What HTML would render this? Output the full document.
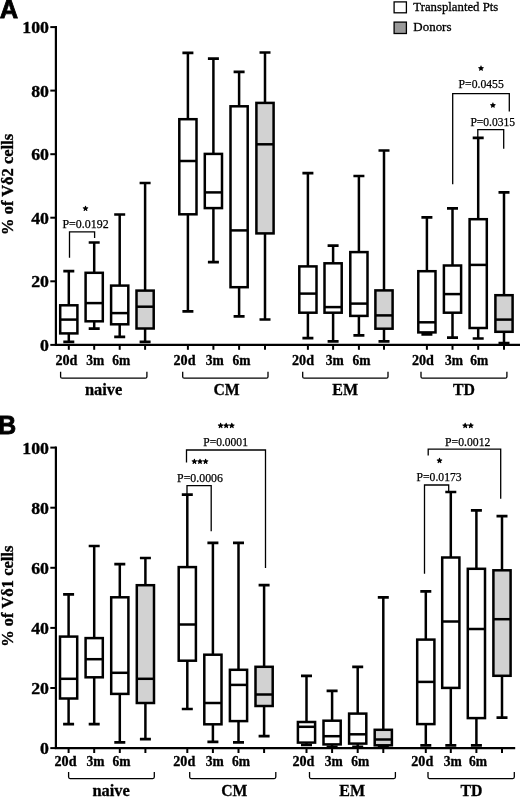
<!DOCTYPE html>
<html><head><meta charset="utf-8"><title>Figure</title>
<style>
html,body{margin:0;padding:0;background:#fff;}
svg{display:block;will-change:transform;}
text{font-family:"Liberation Serif",serif;fill:#000;}
.tk{font-size:16.8px;font-weight:bold;stroke:#000;stroke-width:0.35px;}
.xl{font-size:13.6px;font-weight:bold;stroke:#000;stroke-width:0.3px;}
.gl{font-size:16.6px;font-weight:bold;stroke:#000;stroke-width:0.3px;}
.yl{font-size:16.6px;font-weight:bold;stroke:#000;stroke-width:0.35px;}
.pl{font-family:"Liberation Sans",sans-serif;font-size:25.2px;font-weight:bold;stroke:#000;stroke-width:0.8px;}
.lg{font-size:12.8px;stroke:#000;stroke-width:0.3px;}
.pv{font-size:12.2px;stroke:#000;stroke-width:0.25px;}
</style></head><body>
<svg width="520" height="797" viewBox="0 0 520 797">
<rect width="520" height="797" fill="#fff"/>
<path d="M55.9 26.0V344.85H520" fill="none" stroke="#000" stroke-width="2.2"/>
<path d="M50.3 344.9H55.9" stroke="#000" stroke-width="2"/>
<text x="40.1" y="350.8" class="tk" textLength="8.9" lengthAdjust="spacingAndGlyphs">0</text>
<path d="M50.3 281.3H55.9" stroke="#000" stroke-width="2"/>
<text x="31.2" y="287.2" class="tk" textLength="17.8" lengthAdjust="spacingAndGlyphs">20</text>
<path d="M50.3 217.7H55.9" stroke="#000" stroke-width="2"/>
<text x="31.2" y="223.6" class="tk" textLength="17.8" lengthAdjust="spacingAndGlyphs">40</text>
<path d="M50.3 154.2H55.9" stroke="#000" stroke-width="2"/>
<text x="31.2" y="160.1" class="tk" textLength="17.8" lengthAdjust="spacingAndGlyphs">60</text>
<path d="M50.3 90.6H55.9" stroke="#000" stroke-width="2"/>
<text x="31.2" y="96.5" class="tk" textLength="17.8" lengthAdjust="spacingAndGlyphs">80</text>
<path d="M50.3 27.1H55.9" stroke="#000" stroke-width="2"/>
<text x="22.3" y="33.0" class="tk" textLength="26.7" lengthAdjust="spacingAndGlyphs">100</text>
<path d="M68.8 344.85V349.8" stroke="#000" stroke-width="2"/>
<path d="M68.8 271.2V341.8" stroke="#000" stroke-width="2.5" fill="none"/>
<path d="M63.3 271.2h11M63.3 341.8h11" stroke="#000" stroke-width="2.7" fill="none"/>
<rect x="60.2" y="305.3" width="17.2" height="28.1" fill="#fff" stroke="#000" stroke-width="2.5"/>
<path d="M60.2 319.6h17.2" stroke="#000" stroke-width="2.5"/>
<text x="55.4" y="364.8" class="xl" textLength="22.0" lengthAdjust="spacingAndGlyphs">20d</text>
<path d="M94.2 344.85V349.8" stroke="#000" stroke-width="2"/>
<path d="M94.2 242.5V328.7" stroke="#000" stroke-width="2.5" fill="none"/>
<path d="M88.7 242.5h11M88.7 328.7h11" stroke="#000" stroke-width="2.7" fill="none"/>
<rect x="85.6" y="272.8" width="17.2" height="48.5" fill="#fff" stroke="#000" stroke-width="2.5"/>
<path d="M85.6 303.1h17.2" stroke="#000" stroke-width="2.5"/>
<text x="86.2" y="364.8" class="xl" textLength="18.0" lengthAdjust="spacingAndGlyphs">3m</text>
<path d="M119.7 344.85V349.8" stroke="#000" stroke-width="2"/>
<path d="M119.7 214.5V336.8" stroke="#000" stroke-width="2.5" fill="none"/>
<path d="M114.2 214.5h11M114.2 336.8h11" stroke="#000" stroke-width="2.7" fill="none"/>
<rect x="111.1" y="285.6" width="17.2" height="38.7" fill="#fff" stroke="#000" stroke-width="2.5"/>
<path d="M111.1 313.1h17.2" stroke="#000" stroke-width="2.5"/>
<text x="112.2" y="364.8" class="xl" textLength="18.0" lengthAdjust="spacingAndGlyphs">6m</text>
<path d="M145.1 344.85V349.8" stroke="#000" stroke-width="2"/>
<path d="M145.1 183.0V341.8" stroke="#000" stroke-width="2.5" fill="none"/>
<path d="M139.6 183.0h11M139.6 341.8h11" stroke="#000" stroke-width="2.7" fill="none"/>
<rect x="136.5" y="290.6" width="17.2" height="37.9" fill="#d2d2d2" stroke="#000" stroke-width="2.5"/>
<path d="M136.5 306.7h17.2" stroke="#000" stroke-width="2.5"/>
<path d="M60.6 371.7V376.7Q60.6 378.2 62.1 378.2H145.4Q146.9 378.2 146.9 376.7V371.7" fill="none" stroke="#000" stroke-width="1.3"/>
<text x="84.9" y="395.0" class="gl" textLength="37.4" lengthAdjust="spacingAndGlyphs">naive</text>
<path d="M187.9 344.85V349.8" stroke="#000" stroke-width="2"/>
<path d="M187.9 52.9V311.3" stroke="#000" stroke-width="2.5" fill="none"/>
<path d="M182.4 52.9h11M182.4 311.3h11" stroke="#000" stroke-width="2.7" fill="none"/>
<rect x="179.3" y="119.2" width="17.2" height="95.1" fill="#fff" stroke="#000" stroke-width="2.5"/>
<path d="M179.3 161.0h17.2" stroke="#000" stroke-width="2.5"/>
<text x="173.5" y="364.8" class="xl" textLength="22.0" lengthAdjust="spacingAndGlyphs">20d</text>
<path d="M213.4 344.85V349.8" stroke="#000" stroke-width="2"/>
<path d="M213.4 58.6V262.1" stroke="#000" stroke-width="2.5" fill="none"/>
<path d="M207.9 58.6h11M207.9 262.1h11" stroke="#000" stroke-width="2.7" fill="none"/>
<rect x="204.8" y="153.9" width="17.2" height="54.2" fill="#fff" stroke="#000" stroke-width="2.5"/>
<path d="M204.8 192.4h17.2" stroke="#000" stroke-width="2.5"/>
<text x="205.7" y="364.8" class="xl" textLength="18.0" lengthAdjust="spacingAndGlyphs">3m</text>
<path d="M239.1 344.85V349.8" stroke="#000" stroke-width="2"/>
<path d="M239.1 71.9V316.3" stroke="#000" stroke-width="2.5" fill="none"/>
<path d="M233.6 71.9h11M233.6 316.3h11" stroke="#000" stroke-width="2.7" fill="none"/>
<rect x="230.5" y="106.3" width="17.2" height="180.9" fill="#fff" stroke="#000" stroke-width="2.5"/>
<path d="M230.5 230.4h17.2" stroke="#000" stroke-width="2.5"/>
<text x="232.6" y="364.8" class="xl" textLength="18.0" lengthAdjust="spacingAndGlyphs">6m</text>
<path d="M265.0 344.85V349.8" stroke="#000" stroke-width="2"/>
<path d="M265.0 52.5V319.5" stroke="#000" stroke-width="2.5" fill="none"/>
<path d="M259.5 52.5h11M259.5 319.5h11" stroke="#000" stroke-width="2.7" fill="none"/>
<rect x="256.4" y="102.9" width="17.2" height="130.5" fill="#d2d2d2" stroke="#000" stroke-width="2.5"/>
<path d="M256.4 144.3h17.2" stroke="#000" stroke-width="2.5"/>
<path d="M182.7 371.7V376.7Q182.7 378.2 184.2 378.2H266.5Q268.0 378.2 268.0 376.7V371.7" fill="none" stroke="#000" stroke-width="1.3"/>
<text x="213.5" y="395.0" class="gl" textLength="26.2" lengthAdjust="spacingAndGlyphs">CM</text>
<path d="M307.9 344.85V349.8" stroke="#000" stroke-width="2"/>
<path d="M307.9 173.1V338.2" stroke="#000" stroke-width="2.5" fill="none"/>
<path d="M302.4 173.1h11M302.4 338.2h11" stroke="#000" stroke-width="2.7" fill="none"/>
<rect x="299.3" y="266.4" width="17.2" height="46.3" fill="#fff" stroke="#000" stroke-width="2.5"/>
<path d="M299.3 293.6h17.2" stroke="#000" stroke-width="2.5"/>
<text x="292.0" y="364.8" class="xl" textLength="22.0" lengthAdjust="spacingAndGlyphs">20d</text>
<path d="M333.1 344.85V349.8" stroke="#000" stroke-width="2"/>
<path d="M333.1 245.7V341.4" stroke="#000" stroke-width="2.5" fill="none"/>
<path d="M327.6 245.7h11M327.6 341.4h11" stroke="#000" stroke-width="2.7" fill="none"/>
<rect x="324.5" y="263.3" width="17.2" height="49.4" fill="#fff" stroke="#000" stroke-width="2.5"/>
<path d="M324.5 307.1h17.2" stroke="#000" stroke-width="2.5"/>
<text x="325.7" y="364.8" class="xl" textLength="18.0" lengthAdjust="spacingAndGlyphs">3m</text>
<path d="M358.9 344.85V349.8" stroke="#000" stroke-width="2"/>
<path d="M358.9 176.0V335.3" stroke="#000" stroke-width="2.5" fill="none"/>
<path d="M353.4 176.0h11M353.4 335.3h11" stroke="#000" stroke-width="2.7" fill="none"/>
<rect x="350.3" y="252.1" width="17.2" height="63.8" fill="#fff" stroke="#000" stroke-width="2.5"/>
<path d="M350.3 303.6h17.2" stroke="#000" stroke-width="2.5"/>
<text x="352.6" y="364.8" class="xl" textLength="18.0" lengthAdjust="spacingAndGlyphs">6m</text>
<path d="M384.0 344.85V349.8" stroke="#000" stroke-width="2"/>
<path d="M384.0 150.5V341.4" stroke="#000" stroke-width="2.5" fill="none"/>
<path d="M378.5 150.5h11M378.5 341.4h11" stroke="#000" stroke-width="2.7" fill="none"/>
<rect x="375.4" y="290.4" width="17.2" height="38.3" fill="#d2d2d2" stroke="#000" stroke-width="2.5"/>
<path d="M375.4 315.4h17.2" stroke="#000" stroke-width="2.5"/>
<path d="M302.7 371.7V376.7Q302.7 378.2 304.2 378.2H386.5Q388.0 378.2 388.0 376.7V371.7" fill="none" stroke="#000" stroke-width="1.3"/>
<text x="332.3" y="395.0" class="gl" textLength="25.8" lengthAdjust="spacingAndGlyphs">EM</text>
<path d="M426.9 344.85V349.8" stroke="#000" stroke-width="2"/>
<path d="M426.9 217.3V334.4" stroke="#000" stroke-width="2.5" fill="none"/>
<path d="M421.4 217.3h11M421.4 334.4h11" stroke="#000" stroke-width="2.7" fill="none"/>
<rect x="418.3" y="271.2" width="17.2" height="61.2" fill="#fff" stroke="#000" stroke-width="2.5"/>
<path d="M418.3 322.3h17.2" stroke="#000" stroke-width="2.5"/>
<text x="411.9" y="364.8" class="xl" textLength="22.0" lengthAdjust="spacingAndGlyphs">20d</text>
<path d="M452.5 344.85V349.8" stroke="#000" stroke-width="2"/>
<path d="M452.5 208.3V337.7" stroke="#000" stroke-width="2.5" fill="none"/>
<path d="M447.0 208.3h11M447.0 337.7h11" stroke="#000" stroke-width="2.7" fill="none"/>
<rect x="443.9" y="265.5" width="17.2" height="47.2" fill="#fff" stroke="#000" stroke-width="2.5"/>
<path d="M443.9 294.1h17.2" stroke="#000" stroke-width="2.5"/>
<text x="444.9" y="364.8" class="xl" textLength="18.0" lengthAdjust="spacingAndGlyphs">3m</text>
<path d="M478.2 344.85V349.8" stroke="#000" stroke-width="2"/>
<path d="M478.2 137.9V338.5" stroke="#000" stroke-width="2.5" fill="none"/>
<path d="M472.7 137.9h11M472.7 338.5h11" stroke="#000" stroke-width="2.7" fill="none"/>
<rect x="469.6" y="219.2" width="17.2" height="108.8" fill="#fff" stroke="#000" stroke-width="2.5"/>
<path d="M469.6 264.9h17.2" stroke="#000" stroke-width="2.5"/>
<text x="470.3" y="364.8" class="xl" textLength="18.0" lengthAdjust="spacingAndGlyphs">6m</text>
<path d="M504.0 344.85V349.8" stroke="#000" stroke-width="2"/>
<path d="M504.0 192.4V343.0" stroke="#000" stroke-width="2.5" fill="none"/>
<path d="M498.5 192.4h11M498.5 343.0h11" stroke="#000" stroke-width="2.7" fill="none"/>
<rect x="495.4" y="295.2" width="17.2" height="36.6" fill="#d2d2d2" stroke="#000" stroke-width="2.5"/>
<path d="M495.4 319.6h17.2" stroke="#000" stroke-width="2.5"/>
<path d="M421.0 371.7V376.7Q421.0 378.2 422.5 378.2H505.4Q506.9 378.2 506.9 376.7V371.7" fill="none" stroke="#000" stroke-width="1.3"/>
<text x="453.0" y="395.0" class="gl" textLength="22.0" lengthAdjust="spacingAndGlyphs">TD</text>
<text x="-0.2" y="18.3" class="pl" textLength="18.4" lengthAdjust="spacingAndGlyphs">A</text>
<text transform="translate(13.0 184.4) rotate(-90)" text-anchor="middle" class="yl" textLength="101" lengthAdjust="spacingAndGlyphs">% of  Vδ2 cells</text>
<path d="M55.9 446.5V748.1H515.2" fill="none" stroke="#000" stroke-width="2.2"/>
<path d="M50.3 748.1H55.9" stroke="#000" stroke-width="2"/>
<text x="40.1" y="754.0" class="tk" textLength="8.9" lengthAdjust="spacingAndGlyphs">0</text>
<path d="M50.3 688.0H55.9" stroke="#000" stroke-width="2"/>
<text x="31.2" y="693.9" class="tk" textLength="17.8" lengthAdjust="spacingAndGlyphs">20</text>
<path d="M50.3 627.9H55.9" stroke="#000" stroke-width="2"/>
<text x="31.2" y="633.8" class="tk" textLength="17.8" lengthAdjust="spacingAndGlyphs">40</text>
<path d="M50.3 567.8H55.9" stroke="#000" stroke-width="2"/>
<text x="31.2" y="573.7" class="tk" textLength="17.8" lengthAdjust="spacingAndGlyphs">60</text>
<path d="M50.3 507.7H55.9" stroke="#000" stroke-width="2"/>
<text x="31.2" y="513.6" class="tk" textLength="17.8" lengthAdjust="spacingAndGlyphs">80</text>
<path d="M50.3 447.6H55.9" stroke="#000" stroke-width="2"/>
<text x="22.3" y="453.5" class="tk" textLength="26.7" lengthAdjust="spacingAndGlyphs">100</text>
<path d="M68.6 748.1V753.0" stroke="#000" stroke-width="2"/>
<path d="M68.6 594.3V724.1" stroke="#000" stroke-width="2.5" fill="none"/>
<path d="M63.1 594.3h11M63.1 724.1h11" stroke="#000" stroke-width="2.7" fill="none"/>
<rect x="60.0" y="636.6" width="17.2" height="61.9" fill="#fff" stroke="#000" stroke-width="2.5"/>
<path d="M60.0 678.8h17.2" stroke="#000" stroke-width="2.5"/>
<text x="54.5" y="766.0" class="xl" textLength="22.0" lengthAdjust="spacingAndGlyphs">20d</text>
<path d="M94.2 748.1V753.0" stroke="#000" stroke-width="2"/>
<path d="M94.2 546.0V724.1" stroke="#000" stroke-width="2.5" fill="none"/>
<path d="M88.7 546.0h11M88.7 724.1h11" stroke="#000" stroke-width="2.7" fill="none"/>
<rect x="85.6" y="638.1" width="17.2" height="39.2" fill="#fff" stroke="#000" stroke-width="2.5"/>
<path d="M85.6 659.2h17.2" stroke="#000" stroke-width="2.5"/>
<text x="86.5" y="766.0" class="xl" textLength="18.0" lengthAdjust="spacingAndGlyphs">3m</text>
<path d="M119.8 748.1V753.0" stroke="#000" stroke-width="2"/>
<path d="M119.8 564.1V742.3" stroke="#000" stroke-width="2.5" fill="none"/>
<path d="M114.3 564.1h11M114.3 742.3h11" stroke="#000" stroke-width="2.7" fill="none"/>
<rect x="111.2" y="597.3" width="17.2" height="96.6" fill="#fff" stroke="#000" stroke-width="2.5"/>
<path d="M111.2 672.8h17.2" stroke="#000" stroke-width="2.5"/>
<text x="112.6" y="766.0" class="xl" textLength="18.0" lengthAdjust="spacingAndGlyphs">6m</text>
<path d="M145.4 748.1V753.0" stroke="#000" stroke-width="2"/>
<path d="M145.4 558.0V739.2" stroke="#000" stroke-width="2.5" fill="none"/>
<path d="M139.9 558.0h11M139.9 739.2h11" stroke="#000" stroke-width="2.7" fill="none"/>
<rect x="136.8" y="585.2" width="17.2" height="117.8" fill="#d2d2d2" stroke="#000" stroke-width="2.5"/>
<path d="M136.8 678.8h17.2" stroke="#000" stroke-width="2.5"/>
<path d="M68.6 771.9V777.1Q68.6 778.6 70.1 778.6H152.8Q154.3 778.6 154.3 777.1V771.9" fill="none" stroke="#000" stroke-width="1.3"/>
<text x="92.4" y="795.8" class="gl" textLength="37.4" lengthAdjust="spacingAndGlyphs">naive</text>
<path d="M187.3 748.1V753.0" stroke="#000" stroke-width="2"/>
<path d="M187.3 494.6V709.0" stroke="#000" stroke-width="2.5" fill="none"/>
<path d="M181.8 494.6h11M181.8 709.0h11" stroke="#000" stroke-width="2.7" fill="none"/>
<rect x="178.7" y="567.1" width="17.2" height="93.6" fill="#fff" stroke="#000" stroke-width="2.5"/>
<path d="M178.7 624.5h17.2" stroke="#000" stroke-width="2.5"/>
<text x="173.3" y="766.0" class="xl" textLength="22.0" lengthAdjust="spacingAndGlyphs">20d</text>
<path d="M212.9 748.1V753.0" stroke="#000" stroke-width="2"/>
<path d="M212.9 542.9V741.9" stroke="#000" stroke-width="2.5" fill="none"/>
<path d="M207.4 542.9h11M207.4 741.9h11" stroke="#000" stroke-width="2.7" fill="none"/>
<rect x="204.3" y="654.7" width="17.2" height="69.6" fill="#fff" stroke="#000" stroke-width="2.5"/>
<path d="M204.3 703.0h17.2" stroke="#000" stroke-width="2.5"/>
<text x="205.7" y="766.0" class="xl" textLength="18.0" lengthAdjust="spacingAndGlyphs">3m</text>
<path d="M238.5 748.1V753.0" stroke="#000" stroke-width="2"/>
<path d="M238.5 542.9V742.4" stroke="#000" stroke-width="2.5" fill="none"/>
<path d="M233.0 542.9h11M233.0 742.4h11" stroke="#000" stroke-width="2.7" fill="none"/>
<rect x="229.9" y="669.8" width="17.2" height="51.3" fill="#fff" stroke="#000" stroke-width="2.5"/>
<path d="M229.9 684.9h17.2" stroke="#000" stroke-width="2.5"/>
<text x="231.9" y="766.0" class="xl" textLength="18.0" lengthAdjust="spacingAndGlyphs">6m</text>
<path d="M264.1 748.1V753.0" stroke="#000" stroke-width="2"/>
<path d="M264.1 585.2V736.2" stroke="#000" stroke-width="2.5" fill="none"/>
<path d="M258.6 585.2h11M258.6 736.2h11" stroke="#000" stroke-width="2.7" fill="none"/>
<rect x="255.5" y="666.8" width="17.2" height="39.2" fill="#d2d2d2" stroke="#000" stroke-width="2.5"/>
<path d="M255.5 694.5h17.2" stroke="#000" stroke-width="2.5"/>
<path d="M189.7 771.9V777.1Q189.7 778.6 191.2 778.6H274.3Q275.8 778.6 275.8 777.1V771.9" fill="none" stroke="#000" stroke-width="1.3"/>
<text x="221.2" y="795.8" class="gl" textLength="26.2" lengthAdjust="spacingAndGlyphs">CM</text>
<path d="M306.5 748.1V753.0" stroke="#000" stroke-width="2"/>
<path d="M306.5 675.8V745.0" stroke="#000" stroke-width="2.5" fill="none"/>
<path d="M301.0 675.8h11M301.0 745.0h11" stroke="#000" stroke-width="2.7" fill="none"/>
<rect x="297.9" y="722.0" width="17.2" height="20.6" fill="#fff" stroke="#000" stroke-width="2.5"/>
<path d="M297.9 726.8h17.2" stroke="#000" stroke-width="2.5"/>
<text x="292.4" y="766.0" class="xl" textLength="22.0" lengthAdjust="spacingAndGlyphs">20d</text>
<path d="M332.1 748.1V753.0" stroke="#000" stroke-width="2"/>
<path d="M332.1 690.9V746.8" stroke="#000" stroke-width="2.5" fill="none"/>
<path d="M326.6 690.9h11M326.6 746.8h11" stroke="#000" stroke-width="2.7" fill="none"/>
<rect x="323.5" y="720.7" width="17.2" height="23.7" fill="#fff" stroke="#000" stroke-width="2.5"/>
<path d="M323.5 736.2h17.2" stroke="#000" stroke-width="2.5"/>
<text x="324.7" y="766.0" class="xl" textLength="18.0" lengthAdjust="spacingAndGlyphs">3m</text>
<path d="M357.7 748.1V753.0" stroke="#000" stroke-width="2"/>
<path d="M357.7 666.8V746.8" stroke="#000" stroke-width="2.5" fill="none"/>
<path d="M352.2 666.8h11M352.2 746.8h11" stroke="#000" stroke-width="2.7" fill="none"/>
<rect x="349.1" y="713.6" width="17.2" height="30.0" fill="#fff" stroke="#000" stroke-width="2.5"/>
<path d="M349.1 734.3h17.2" stroke="#000" stroke-width="2.5"/>
<text x="351.3" y="766.0" class="xl" textLength="18.0" lengthAdjust="spacingAndGlyphs">6m</text>
<path d="M383.3 748.1V753.0" stroke="#000" stroke-width="2"/>
<path d="M383.3 597.3V746.8" stroke="#000" stroke-width="2.5" fill="none"/>
<path d="M377.8 597.3h11M377.8 746.8h11" stroke="#000" stroke-width="2.7" fill="none"/>
<rect x="374.7" y="729.8" width="17.2" height="15.5" fill="#d2d2d2" stroke="#000" stroke-width="2.5"/>
<path d="M374.7 739.5h17.2" stroke="#000" stroke-width="2.5"/>
<path d="M309.5 771.9V777.1Q309.5 778.6 311.0 778.6H393.9Q395.4 778.6 395.4 777.1V771.9" fill="none" stroke="#000" stroke-width="1.3"/>
<text x="339.3" y="795.8" class="gl" textLength="25.8" lengthAdjust="spacingAndGlyphs">EM</text>
<path d="M425.8 748.1V753.0" stroke="#000" stroke-width="2"/>
<path d="M425.8 591.3V745.3" stroke="#000" stroke-width="2.5" fill="none"/>
<path d="M420.3 591.3h11M420.3 745.3h11" stroke="#000" stroke-width="2.7" fill="none"/>
<rect x="417.2" y="639.6" width="17.2" height="84.5" fill="#fff" stroke="#000" stroke-width="2.5"/>
<path d="M417.2 681.9h17.2" stroke="#000" stroke-width="2.5"/>
<text x="411.3" y="766.0" class="xl" textLength="22.0" lengthAdjust="spacingAndGlyphs">20d</text>
<path d="M450.8 748.1V753.0" stroke="#000" stroke-width="2"/>
<path d="M450.8 492.0V745.3" stroke="#000" stroke-width="2.5" fill="none"/>
<path d="M445.3 492.0h11M445.3 745.3h11" stroke="#000" stroke-width="2.7" fill="none"/>
<rect x="442.2" y="557.5" width="17.2" height="130.4" fill="#fff" stroke="#000" stroke-width="2.5"/>
<path d="M442.2 621.5h17.2" stroke="#000" stroke-width="2.5"/>
<text x="443.8" y="766.0" class="xl" textLength="18.0" lengthAdjust="spacingAndGlyphs">3m</text>
<path d="M476.4 748.1V753.0" stroke="#000" stroke-width="2"/>
<path d="M476.4 510.3V745.3" stroke="#000" stroke-width="2.5" fill="none"/>
<path d="M470.9 510.3h11M470.9 745.3h11" stroke="#000" stroke-width="2.7" fill="none"/>
<rect x="467.8" y="568.8" width="17.2" height="149.3" fill="#fff" stroke="#000" stroke-width="2.5"/>
<path d="M467.8 629.0h17.2" stroke="#000" stroke-width="2.5"/>
<text x="468.9" y="766.0" class="xl" textLength="18.0" lengthAdjust="spacingAndGlyphs">6m</text>
<path d="M502.0 748.1V753.0" stroke="#000" stroke-width="2"/>
<path d="M502.0 516.2V717.7" stroke="#000" stroke-width="2.5" fill="none"/>
<path d="M496.5 516.2h11M496.5 717.7h11" stroke="#000" stroke-width="2.7" fill="none"/>
<rect x="493.4" y="570.3" width="17.2" height="105.5" fill="#d2d2d2" stroke="#000" stroke-width="2.5"/>
<path d="M493.4 619.2h17.2" stroke="#000" stroke-width="2.5"/>
<path d="M428.0 771.9V777.1Q428.0 778.6 429.5 778.6H512.8Q514.3 778.6 514.3 777.1V771.9" fill="none" stroke="#000" stroke-width="1.3"/>
<text x="460.4" y="795.8" class="gl" textLength="22.0" lengthAdjust="spacingAndGlyphs">TD</text>
<text x="-1.9" y="433.6" class="pl">B</text>
<text transform="translate(13.0 596.2) rotate(-90)" text-anchor="middle" class="yl" textLength="101" lengthAdjust="spacingAndGlyphs">% of  Vδ1 cells</text>
<path d="M69.5 257.7V231.8H94.6V238" fill="none" stroke="#000" stroke-width="1.3"/>
<text x="62.5" y="227.9" class="pv" textLength="46.1" lengthAdjust="spacingAndGlyphs">P=0.0192</text>
<path d="M85.50 208.50L85.50 206.30M85.50 208.50L87.59 207.82M85.50 208.50L86.79 210.28M85.50 208.50L84.21 210.28M85.50 208.50L83.41 207.82" stroke="#000" stroke-width="1.3" stroke-linecap="round" fill="none"/><circle cx="85.50" cy="208.50" r="1.6" fill="#000"/>
<path d="M452.7 184.3V93.6H509.3V111.6" fill="none" stroke="#000" stroke-width="1.3"/>
<text x="458.6" y="87.7" class="pv" textLength="45.2" lengthAdjust="spacingAndGlyphs">P=0.0455</text>
<path d="M481.00 68.40L481.00 66.20M481.00 68.40L483.09 67.72M481.00 68.40L482.29 70.18M481.00 68.40L479.71 70.18M481.00 68.40L478.91 67.72" stroke="#000" stroke-width="1.3" stroke-linecap="round" fill="none"/><circle cx="481.00" cy="68.40" r="1.6" fill="#000"/>
<path d="M477.8 137V129.6H503.7V148.7" fill="none" stroke="#000" stroke-width="1.3"/>
<text x="470.4" y="125.9" class="pv" textLength="44.7" lengthAdjust="spacingAndGlyphs">P=0.0315</text>
<path d="M492.90 105.30L492.90 103.10M492.90 105.30L494.99 104.62M492.90 105.30L494.19 107.08M492.90 105.30L491.61 107.08M492.90 105.30L490.81 104.62" stroke="#000" stroke-width="1.3" stroke-linecap="round" fill="none"/><circle cx="492.90" cy="105.30" r="1.6" fill="#000"/>
<path d="M186.5 462.5V450H265.5V568" fill="none" stroke="#000" stroke-width="1.3"/>
<text x="203.3" y="445.7" class="pv" textLength="44.6" lengthAdjust="spacingAndGlyphs">P=0.0001</text>
<path d="M220.60 425.70L220.60 423.50M220.60 425.70L222.69 425.02M220.60 425.70L221.89 427.48M220.60 425.70L219.31 427.48M220.60 425.70L218.51 425.02" stroke="#000" stroke-width="1.3" stroke-linecap="round" fill="none"/><circle cx="220.60" cy="425.70" r="1.6" fill="#000"/>
<path d="M226.20 425.70L226.20 423.50M226.20 425.70L228.29 425.02M226.20 425.70L227.49 427.48M226.20 425.70L224.91 427.48M226.20 425.70L224.11 425.02" stroke="#000" stroke-width="1.3" stroke-linecap="round" fill="none"/><circle cx="226.20" cy="425.70" r="1.6" fill="#000"/>
<path d="M231.80 425.70L231.80 423.50M231.80 425.70L233.89 425.02M231.80 425.70L233.09 427.48M231.80 425.70L230.51 427.48M231.80 425.70L229.71 425.02" stroke="#000" stroke-width="1.3" stroke-linecap="round" fill="none"/><circle cx="231.80" cy="425.70" r="1.6" fill="#000"/>
<path d="M187 494V485.7H211.2V531.2" fill="none" stroke="#000" stroke-width="1.3"/>
<text x="177.1" y="481.5" class="pv" textLength="45.8" lengthAdjust="spacingAndGlyphs">P=0.0006</text>
<path d="M194.40 461.50L194.40 459.30M194.40 461.50L196.49 460.82M194.40 461.50L195.69 463.28M194.40 461.50L193.11 463.28M194.40 461.50L192.31 460.82" stroke="#000" stroke-width="1.3" stroke-linecap="round" fill="none"/><circle cx="194.40" cy="461.50" r="1.6" fill="#000"/>
<path d="M200.00 461.50L200.00 459.30M200.00 461.50L202.09 460.82M200.00 461.50L201.29 463.28M200.00 461.50L198.71 463.28M200.00 461.50L197.91 460.82" stroke="#000" stroke-width="1.3" stroke-linecap="round" fill="none"/><circle cx="200.00" cy="461.50" r="1.6" fill="#000"/>
<path d="M205.60 461.50L205.60 459.30M205.60 461.50L207.69 460.82M205.60 461.50L206.89 463.28M205.60 461.50L204.31 463.28M205.60 461.50L203.51 460.82" stroke="#000" stroke-width="1.3" stroke-linecap="round" fill="none"/><circle cx="205.60" cy="461.50" r="1.6" fill="#000"/>
<path d="M428.2 455.5V449.2H500.7V498.7" fill="none" stroke="#000" stroke-width="1.3"/>
<text x="445.1" y="445.7" class="pv" textLength="45.3" lengthAdjust="spacingAndGlyphs">P=0.0012</text>
<path d="M465.20 425.70L465.20 423.50M465.20 425.70L467.29 425.02M465.20 425.70L466.49 427.48M465.20 425.70L463.91 427.48M465.20 425.70L463.11 425.02" stroke="#000" stroke-width="1.3" stroke-linecap="round" fill="none"/><circle cx="465.20" cy="425.70" r="1.6" fill="#000"/>
<path d="M470.80 425.70L470.80 423.50M470.80 425.70L472.89 425.02M470.80 425.70L472.09 427.48M470.80 425.70L469.51 427.48M470.80 425.70L468.71 425.02" stroke="#000" stroke-width="1.3" stroke-linecap="round" fill="none"/><circle cx="470.80" cy="425.70" r="1.6" fill="#000"/>
<path d="M424.5 573.7V485H448.7V491" fill="none" stroke="#000" stroke-width="1.3"/>
<text x="416.6" y="480.7" class="pv" textLength="45.0" lengthAdjust="spacingAndGlyphs">P=0.0173</text>
<path d="M439.50 460.70L439.50 458.50M439.50 460.70L441.59 460.02M439.50 460.70L440.79 462.48M439.50 460.70L438.21 462.48M439.50 460.70L437.41 460.02" stroke="#000" stroke-width="1.3" stroke-linecap="round" fill="none"/><circle cx="439.50" cy="460.70" r="1.6" fill="#000"/>
<rect x="394.1" y="1.9" width="12.3" height="10.9" fill="#fff" stroke="#000" stroke-width="1.3"/>
<rect x="394.1" y="22.1" width="12.3" height="11.4" fill="#999" stroke="#000" stroke-width="1.3"/>
<text x="413.3" y="11.2" class="lg" textLength="85" lengthAdjust="spacingAndGlyphs">Transplanted Pts</text>
<text x="413.3" y="31.3" class="lg" textLength="38.2" lengthAdjust="spacingAndGlyphs">Donors</text>
</svg>
</body></html>
